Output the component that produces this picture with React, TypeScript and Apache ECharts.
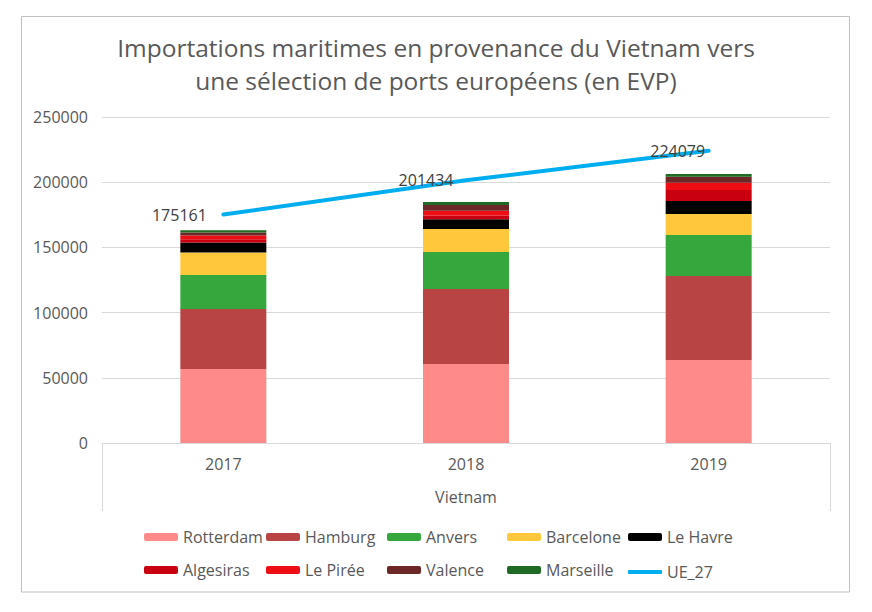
import React, { useEffect, useRef } from "react";
import * as echarts from "echarts";

const years = ["2017", "2018", "2019"];
const groupLabel = ["Vietnam"];
const rotterdam = [56800, 60600, 63700];
const hamburg = [46000, 57500, 64400];
const anvers = [26100, 28400, 31400];
const barcelone = [17100, 17600, 16100];
const leHavre = [7700, 7400, 10000];
const algesiras = [2500, 3000, 8400];
const lePiree = [2900, 3600, 5600];
const valence = [2300, 4400, 4600];
const marseille = [1800, 2300, 2000];
const ue27 = [175161, 201434, 224079];
const yTicks = { min: 0, max: 250000, interval: 50000 };

const TEXT = "#595959";
const FONT = "'Open Sans', 'Noto Sans', sans-serif";
const LINE_COLOR = "#00AEEF";

const barSeries = [
  { name: "Rotterdam", data: rotterdam, color: "#FF8A8A" },
  { name: "Hamburg", data: hamburg, color: "#B84444" },
  { name: "Anvers", data: anvers, color: "#35A73D" },
  { name: "Barcelone", data: barcelone, color: "#FFC83C" },
  { name: "Le Havre", data: leHavre, color: "#000000" },
  { name: "Algesiras", data: algesiras, color: "#C9000F" },
  { name: "Le Pirée", data: lePiree, color: "#EE0D12" },
  { name: "Valence", data: valence, color: "#6E2727" },
  { name: "Marseille", data: marseille, color: "#1F6B25" },
];

const legendOrder = [
  "Rotterdam", "Hamburg", "Anvers", "Barcelone", "Le Havre",
  "Algesiras", "Le Pirée", "Valence", "Marseille", "UE_27",
];
const legendCols = [139, 261, 382, 502, 623];
const legendRows = [524, 557];
const labelDist = [16, 12, 3];

export default function App() {
  const ref = useRef<HTMLDivElement>(null);
  useEffect(() => {
    document.body.style.margin = "0";
    const chart = echarts.init(ref.current!, null, { renderer: "svg" });
    const option: any = {
      animation: false,
      backgroundColor: "#ffffff",
      textStyle: { fontFamily: FONT },
      title: {
        text: "Importations maritimes en provenance du Vietnam vers\nune sélection de ports européens (en EVP)",
        left: "center",
        top: 26,
        textStyle: {
          fontFamily: FONT,
          fontSize: 24.5,
          fontWeight: "normal",
          color: TEXT,
          lineHeight: 33,
        },
      },
      graphic: [
        {
          type: "rect",
          shape: { x: 21.5, y: 16.5, width: 828, height: 575.5 },
          style: { fill: "none", stroke: "#BFBFBF", lineWidth: 1 },
          silent: true,
        },
      ],
      grid: { left: 102, right: 42, top: 117, bottom: 169 },
      legend: legendOrder.map((name, i) => {
        const isLine = name === "UE_27";
        return {
          data: [
            isLine
              ? { name, icon: "roundRect", itemStyle: { color: LINE_COLOR, opacity: 1 } }
              : name,
          ],
          left: legendCols[i % 5],
          top: legendRows[Math.floor(i / 5)] + (isLine ? 2 : 0),
          itemWidth: 34,
          itemHeight: isLine ? 4 : 8,
          itemGap: 0,
          textStyle: { fontFamily: FONT, fontSize: 16, color: TEXT },
        };
      }),
      xAxis: [
        {
          type: "category",
          data: years,
          axisLine: { show: true, lineStyle: { color: "#D9D9D9", width: 1 } },
          axisTick: { show: false },
          axisLabel: { fontFamily: FONT, fontSize: 16, color: TEXT, margin: 13 },
        },
        {
          type: "category",
          data: groupLabel,
          position: "bottom",
          axisLine: { show: false },
          axisTick: { show: true, length: 68, lineStyle: { color: "#D9D9D9" } },
          axisLabel: { fontFamily: FONT, fontSize: 16, color: TEXT, margin: 46 },
        },
      ],
      yAxis: {
        type: "value",
        min: yTicks.min,
        max: yTicks.max,
        interval: yTicks.interval,
        axisLine: { show: false },
        axisTick: { show: false },
        splitLine: { lineStyle: { color: "#D9D9D9", width: 1 } },
        axisLabel: {
          fontFamily: FONT,
          fontSize: 16,
          color: TEXT,
          margin: 14,
          formatter: (v: number) => String(v),
        },
      },
      series: [
        ...barSeries.map((s) => ({
          name: s.name,
          type: "bar",
          stack: "ports",
          barWidth: 86,
          data: s.data,
          itemStyle: { color: s.color },
        })),
        {
          name: "UE_27",
          type: "line",
          data: ue27.map((v, i) => ({
            value: v,
            label: { distance: labelDist[i] },
          })),
          symbol: "circle",
          symbolSize: 1,
          showSymbol: true,
          itemStyle: { color: "rgba(0,0,0,0)", borderWidth: 0 },
          lineStyle: { color: LINE_COLOR, width: 4, cap: "round" },
          label: {
            show: true,
            position: "left",
            fontFamily: FONT,
            fontSize: 16,
            color: "#404040",
            formatter: (p: any) => String(p.value),
          },
          z: 5,
        },
      ],
    };
    chart.setOption(option);
    return () => chart.dispose();
  }, []);
  return <div ref={ref} style={{ width: 872, height: 612 }} />;
}
